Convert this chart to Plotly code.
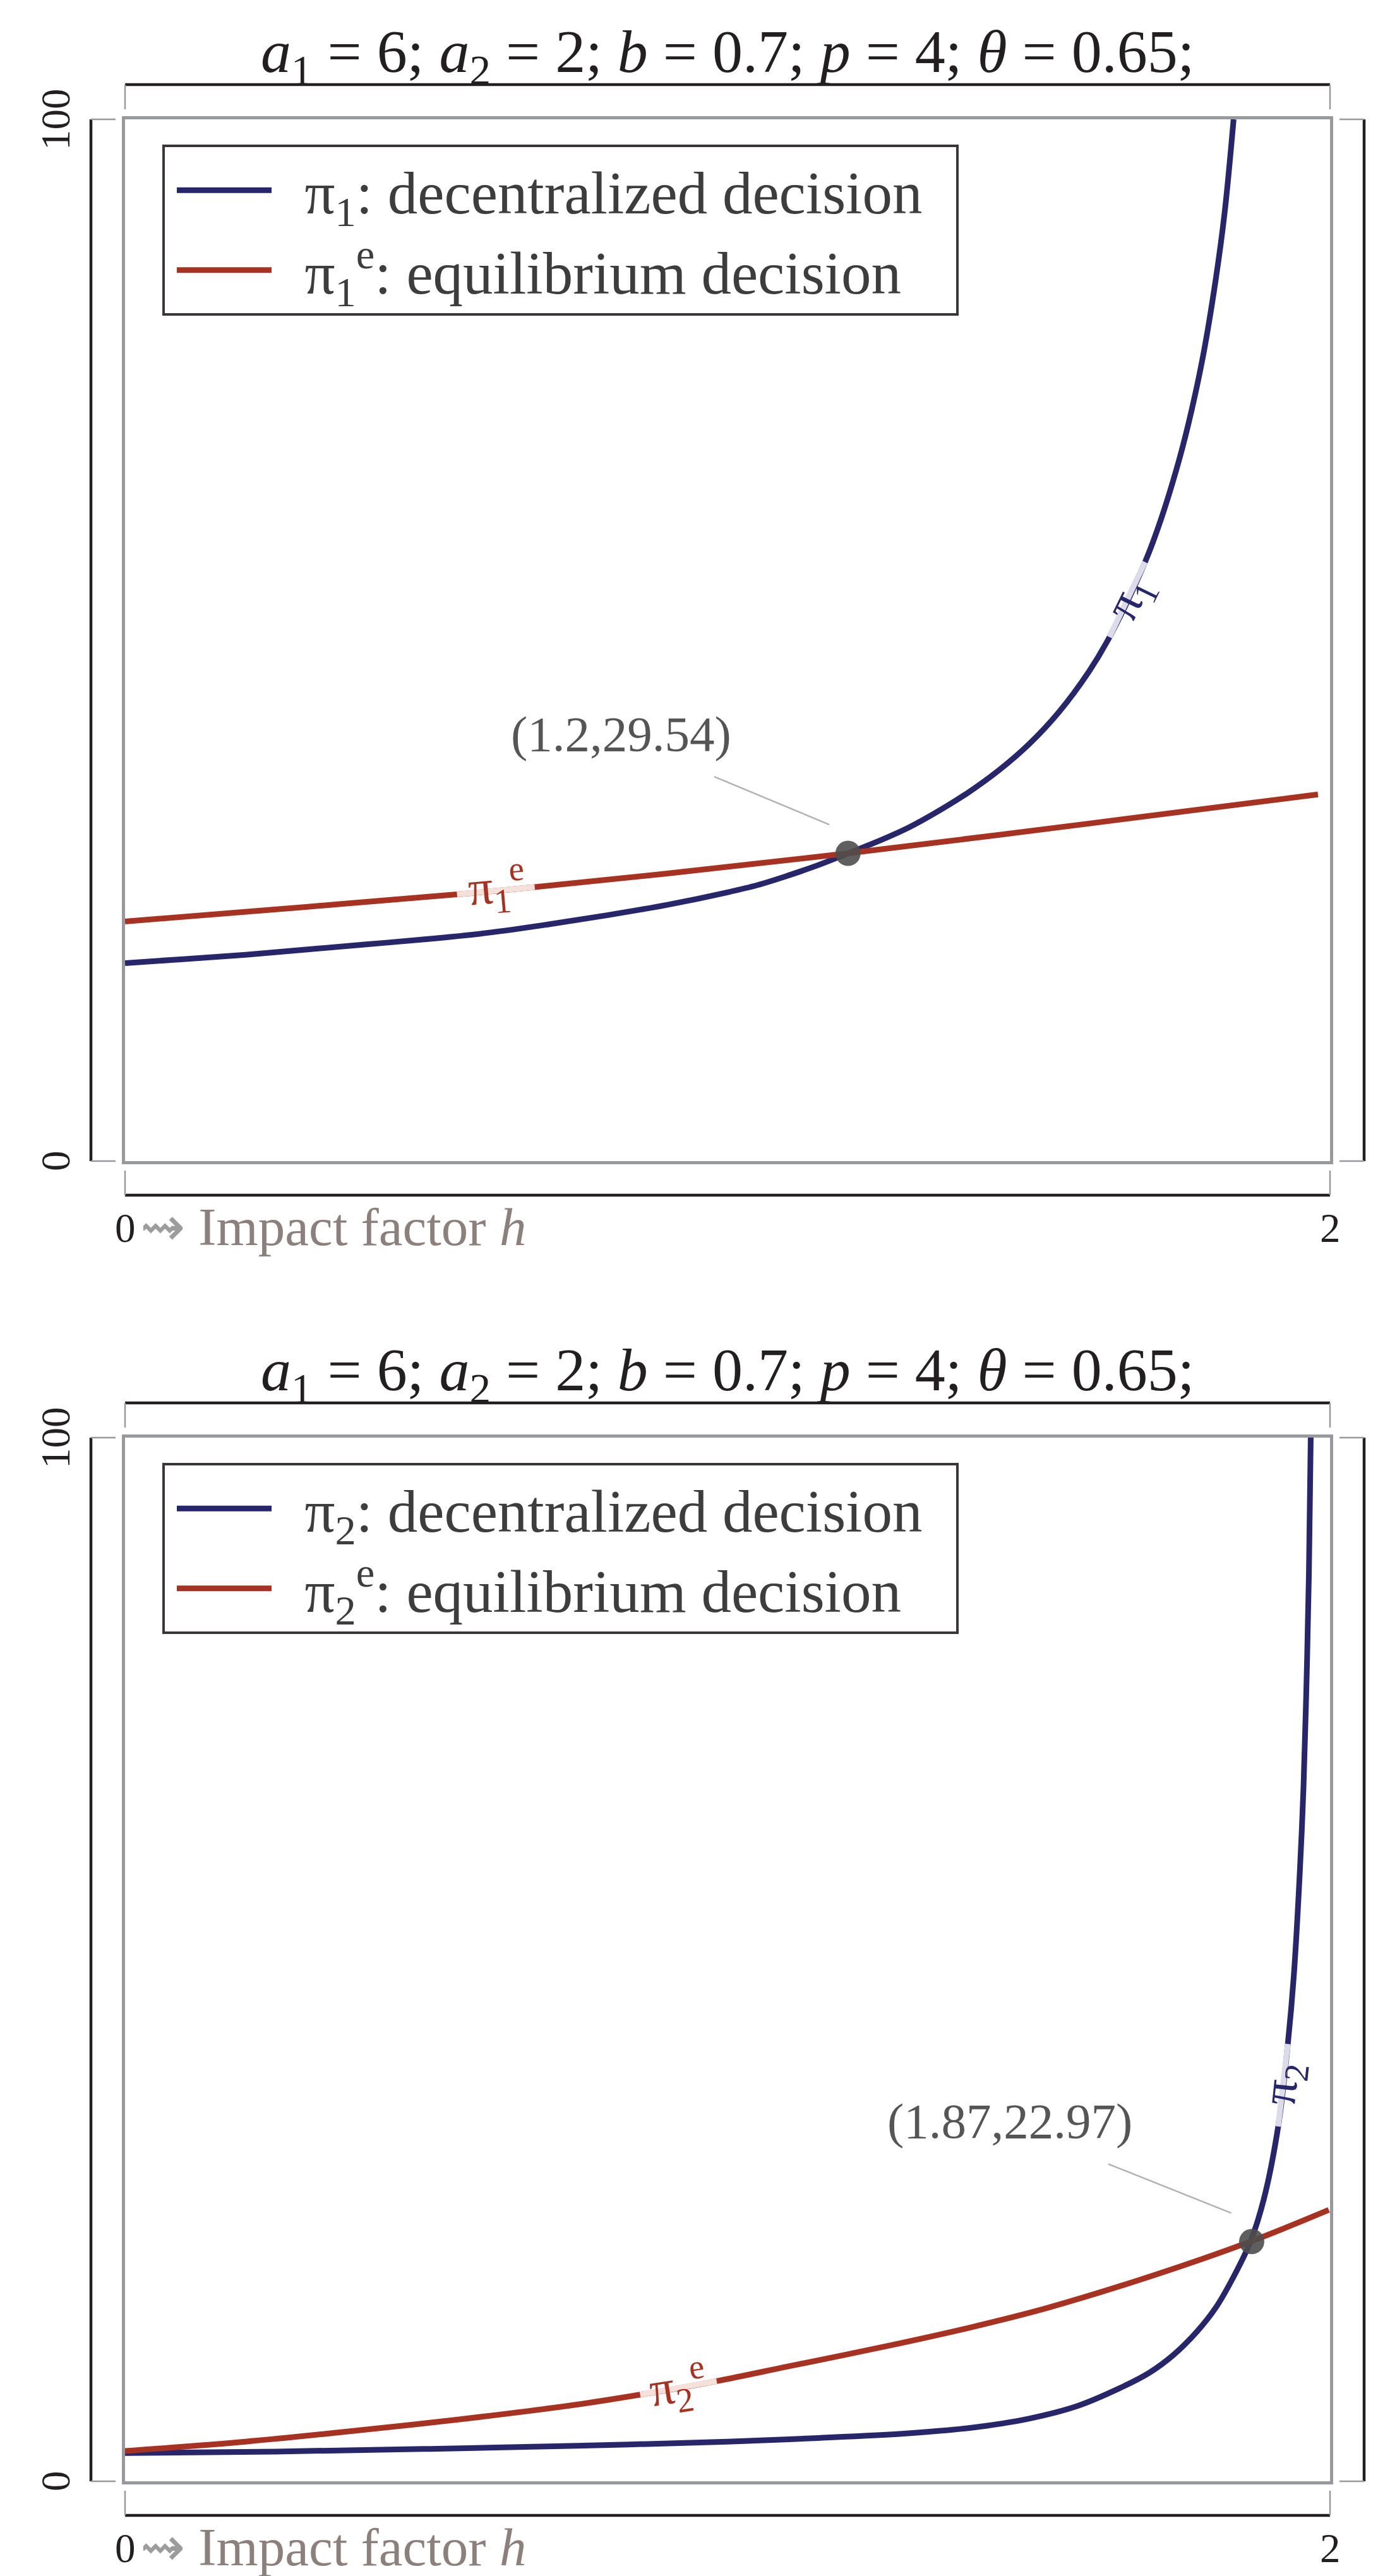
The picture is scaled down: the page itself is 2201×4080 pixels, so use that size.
import plotly.graph_objects as go

# ---------------- data ----------------
h_pi1 = [0, 0.1, 0.2, 0.3, 0.4, 0.5, 0.6, 0.7, 0.8, 0.9, 1.0, 1.05, 1.1, 1.15, 1.2, 1.25, 1.3,
         1.35, 1.4, 1.45, 1.5, 1.55, 1.6, 1.634, 1.693, 1.72, 1.75, 1.77, 1.79, 1.81, 1.825, 1.84]
pi1 = [19.0, 19.4, 19.8, 20.3, 20.8, 21.3, 21.9, 22.7, 23.6, 24.6, 25.8, 26.5, 27.4, 28.4, 29.54,
       30.7, 32.0, 33.6, 35.4, 37.5, 40.0, 43.1, 47.0, 50.3, 57.5, 61.7, 67.4, 72.0, 77.5, 84.5,
       91.0, 100]

h_pi1e = [0, 0.3, 0.551, 0.680, 0.9, 1.2, 1.6, 1.98]
pi1e = [23.0, 24.4, 25.6, 26.3, 27.6, 29.54, 32.4, 35.2]

h_pi2 = [0, 0.25, 0.5, 0.75, 1.0, 1.15, 1.3, 1.4, 1.5, 1.58, 1.65, 1.7, 1.74, 1.78, 1.81, 1.84,
         1.868, 1.89, 1.914, 1.930, 1.940, 1.950, 1.956, 1.961, 1.965, 1.968]
pi2 = [2.7, 2.85, 3.1, 3.4, 3.8, 4.15, 4.6, 5.1, 6.0, 7.2, 8.9, 10.4, 12.1, 14.4, 16.6, 19.6,
       22.97, 27.0, 34.0, 41.9, 48.5, 58.5, 66.5, 76.5, 87.0, 100]

h_pi2e = [0, 0.2, 0.351, 0.55, 0.744, 0.855, 0.982, 1.1, 1.268, 1.4, 1.53, 1.7, 1.868, 1.998]
pi2e = [2.9, 3.8, 4.66, 5.9, 7.3, 8.3, 9.6, 11.0, 13.0, 14.7, 16.6, 19.6, 22.97, 26.0]

eq_h = [1.2, 1.87]
eq_v = [29.54, 22.97]
eq_labels = ["(1.2,29.54)", "(1.87,22.97)"]

x_ticks = [0, 2]
y_ticks = [0, 100]

title_text = ("<i>a</i><sub>1</sub> = 6; <i>a</i><sub>2</sub> = 2; <i>b</i> = 0.7; "
              "<i>p</i> = 4; <i>θ</i> = 0.65;")
legend_names = [["π<sub>1</sub>: decentralized decision", "π<sub>1</sub><sup>e</sup>: equilibrium decision"],
                ["π<sub>2</sub>: decentralized decision", "π<sub>2</sub><sup>e</sup>: equilibrium decision"]]
curve_labels = [["π<sub>1</sub>", "π<sub>1</sub><sup>e</sup>"],
                ["π<sub>2</sub>", "π<sub>2</sub><sup>e</sup>"]]

# ---------------- style ----------------
W, H = 2201, 4080
BLUE = "#28266b"
RED = "#a83221"
BLUE_HI = "#dcdbea"
RED_HI = "#f4e2da"
FRAME = "#98999c"
BLACK = "#231f20"
FONT = "Liberation Serif"
NB = "\u00a0"


def px(x):
    return x / W


def py(y):
    return 1 - y / H


L, R = 190, 2098
panels = [dict(T=181, B=1831), dict(T=2269, B=3922)]

fig = go.Figure()

# index ranges of the data points that carry the in-line curve labels
series = [
    (h_pi1, pi1, h_pi1e, pi1e, (23, 24), (2, 3)),
    (h_pi2, pi2, h_pi2e, pi2e, (18, 19), (5, 6)),
]

shapes = []
annotations = []

for k, (hb, vb, hr, vr, hib, hir) in enumerate(series):
    xa = "x" if k == 0 else "x2"
    ya = "y" if k == 0 else "y2"
    lg = "legend" if k == 0 else "legend2"
    fig.add_trace(go.Scatter(x=hb, y=vb, mode="lines", name=NB + NB + legend_names[k][0] + NB + NB,
                             line=dict(color=BLUE, width=9, shape="spline", smoothing=1.0),
                             xaxis=xa, yaxis=ya, legend=lg))
    fig.add_trace(go.Scatter(x=hr, y=vr, mode="lines", name=NB + NB + legend_names[k][1] + NB + NB,
                             line=dict(color=RED, width=9, shape="spline", smoothing=1.0),
                             xaxis=xa, yaxis=ya, legend=lg))
    # light segments under the curve labels
    i, j = hib
    fig.add_trace(go.Scatter(x=hb[i:j + 1], y=vb[i:j + 1], mode="lines", showlegend=False,
                             line=dict(color=BLUE_HI, width=9), xaxis=xa, yaxis=ya, hoverinfo="skip"))
    i, j = hir
    fig.add_trace(go.Scatter(x=hr[i:j + 1], y=vr[i:j + 1], mode="lines", showlegend=False,
                             line=dict(color=RED_HI, width=9), xaxis=xa, yaxis=ya, hoverinfo="skip"))
    # equilibrium point
    fig.add_trace(go.Scatter(x=[eq_h[k]], y=[eq_v[k]], mode="markers", showlegend=False,
                             marker=dict(color="rgba(78,78,78,0.9)", size=40, line=dict(width=0)),
                             xaxis=xa, yaxis=ya))

# curve labels
lab_pos = [
    [(1.668, 54.0, -64), (0.617, 26.4, -5)],
    [(1.923, 38.1, -84), (0.918, 9.2, -9)],
]
for k in range(2):
    xa = "x" if k == 0 else "x2"
    ya = "y" if k == 0 else "y2"
    for m, col in enumerate([BLUE, RED]):
        xx, yy, ang = lab_pos[k][m]
        annotations.append(dict(x=xx, y=yy, xref=xa, yref=ya, text=curve_labels[k][m],
                                showarrow=False, textangle=ang,
                                font=dict(family=FONT, size=78, color=col)))

# equilibrium annotations with leader lines
eq_text_pos = [(0.823, 41.0), (1.469, 34.5)]
leaders = [((0.978, 36.9), (1.169, 32.3)), ((1.632, 30.4), (1.836, 25.7))]
for k in range(2):
    xa = "x" if k == 0 else "x2"
    ya = "y" if k == 0 else "y2"
    annotations.append(dict(x=eq_text_pos[k][0], y=eq_text_pos[k][1], xref=xa, yref=ya,
                            text=eq_labels[k], showarrow=False,
                            font=dict(family=FONT, size=79, color="#555555")))
    (x0, y0), (x1, y1) = leaders[k]
    shapes.append(dict(type="line", xref=xa, yref=ya, x0=x0, y0=y0, x1=x1, y1=y1,
                       line=dict(color="#b3b3b3", width=2.5)))

# frames, ticks, titles
for k, p in enumerate(panels):
    T, B = p["T"], p["B"]
    tb = T - 55      # top black line
    bb = B + 54      # bottom black line
    lb, rb = 136, 2152
    for (x0, y0, x1, y1) in [(L, tb, R, tb), (L, bb, R, bb), (lb, T, lb, B), (rb, T, rb, B)]:
        shapes.append(dict(type="line", xref="paper", yref="paper",
                           x0=px(x0), y0=py(y0), x1=px(x1), y1=py(y1),
                           line=dict(color=BLACK, width=4.5)))
    stubs = [(L, tb, L, tb + 39), (R, tb, R, tb + 39), (L, bb - 39, L, bb), (R, bb - 39, R, bb),
             (lb, T, lb + 39, T), (lb, B, lb + 39, B), (rb - 39, T, rb, T), (rb - 39, B, rb, B)]
    for (x0, y0, x1, y1) in stubs:
        shapes.append(dict(type="line", xref="paper", yref="paper",
                           x0=px(x0), y0=py(y0), x1=px(x1), y1=py(y1),
                           line=dict(color=FRAME, width=2.5)))
    # title
    annotations.append(dict(x=px((L + R) / 2), y=py(T - 101), xref="paper", yref="paper",
                            text=title_text, showarrow=False, xanchor="center", yanchor="middle",
                            font=dict(family=FONT, size=96, color=BLACK)))
    # y tick labels
    for v, yy in zip(y_ticks, [B, T]):
        annotations.append(dict(x=px(80), y=py(yy), xref="paper", yref="paper", text=str(v),
                                showarrow=False, textangle=-90, xanchor="center", yanchor="middle",
                                font=dict(family=FONT, size=65, color=BLACK)))
    # x tick labels
    for v, xx in zip(x_ticks, [L, R]):
        annotations.append(dict(x=px(xx), y=py(B + 106), xref="paper", yref="paper", text=str(v),
                                showarrow=False, xanchor="center", yanchor="middle",
                                font=dict(family=FONT, size=65, color=BLACK)))
    annotations.append(dict(x=px(212), y=py(B + 104), xref="paper", yref="paper",
                            text='<span style="color:#9c9c9c">⇝</span> Impact factor <i>h</i>',
                            showarrow=False, xanchor="left", yanchor="middle",
                            font=dict(family=FONT, size=85, color="#8c807d")))

ax_common = dict(range=[0, 2], showgrid=False, zeroline=False, showticklabels=False,
                 ticks="", showline=True, mirror=True, linecolor=FRAME, linewidth=5)
ay_common = dict(range=[0, 100], showgrid=False, zeroline=False, showticklabels=False,
                 ticks="", showline=True, mirror=True, linecolor=FRAME, linewidth=5)

xdom = [px(L), px(R)]
leg_common = dict(bgcolor="white", bordercolor="#3a3536", borderwidth=4,
                  font=dict(family=FONT, size=95, color="#3d3d3d"),
                  itemwidth=150, indentation=14, xanchor="left", yanchor="top", tracegroupgap=0)

fig.update_layout(
    width=W, height=H,
    margin=dict(l=0, r=0, t=0, b=0),
    paper_bgcolor="white", plot_bgcolor="white",
    showlegend=True,
    xaxis=dict(domain=xdom, anchor="y", **ax_common),
    yaxis=dict(domain=[py(panels[0]["B"]), py(panels[0]["T"])], anchor="x", **ay_common),
    xaxis2=dict(domain=xdom, anchor="y2", **ax_common),
    yaxis2=dict(domain=[py(panels[1]["B"]), py(panels[1]["T"])], anchor="x2", **ay_common),
    legend=dict(x=px(249), y=py(221), **leg_common),
    legend2=dict(x=px(249), y=py(2309), **leg_common),
    shapes=shapes,
    annotations=annotations,
)

fig.write_html("out.html")
